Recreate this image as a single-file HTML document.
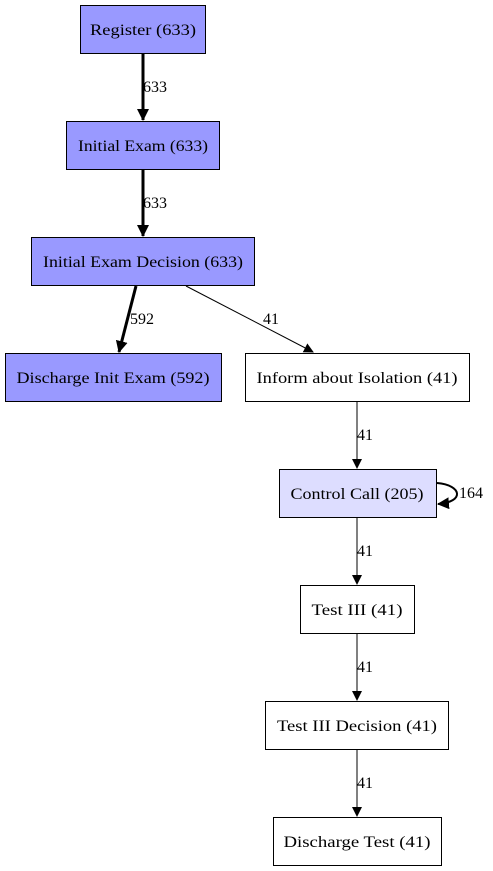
<!DOCTYPE html>
<html><head><meta charset="utf-8"><style>
html,body{margin:0;padding:0;background:#fff;}
svg{display:block;}
text{font-family:"Liberation Serif",serif;font-size:16px;fill:#000;}
</style></head><body>
<svg width="493" height="871" viewBox="0 0 493 871" xmlns="http://www.w3.org/2000/svg">
<defs>
<marker id="a" markerWidth="10" markerHeight="10" refX="9" refY="5" orient="auto" markerUnits="userSpaceOnUse"><path d="M0,0 L10,5 L0,10 z" fill="#000"/></marker>
<marker id="b" markerWidth="12" markerHeight="12" refX="11" refY="6" orient="auto" markerUnits="userSpaceOnUse"><path d="M0,0 L12,6 L0,12 z" fill="#000"/></marker>
</defs>
<g stroke="#000" stroke-width="1">
<rect x="80.5" y="5.5" width="125" height="48" fill="#9999ff"/>
<rect x="66.5" y="121.5" width="153" height="48" fill="#9999ff"/>
<rect x="31.5" y="237.5" width="223" height="48" fill="#9999ff"/>
<rect x="5.5" y="353.5" width="216" height="48" fill="#9999ff"/>
<rect x="245.5" y="353.5" width="224" height="48" fill="#fff"/>
<rect x="279.5" y="469.5" width="157" height="48" fill="#ddddff"/>
<rect x="300.5" y="585.5" width="114" height="48" fill="#fff"/>
<rect x="265.5" y="701.5" width="183" height="48" fill="#fff"/>
<rect x="273.5" y="817.5" width="168" height="48" fill="#fff"/>
</g>
<g stroke="#000" fill="none">
<line x1="143" y1="54" x2="143" y2="120" stroke-width="3" marker-end="url(#b)"/>
<line x1="143" y1="170" x2="143" y2="236" stroke-width="3" marker-end="url(#b)"/>
<line x1="136" y1="286" x2="119" y2="352" stroke-width="3" marker-end="url(#b)"/>
<line x1="186" y1="286" x2="313" y2="352" marker-end="url(#a)"/>
<line x1="357" y1="402" x2="357" y2="468" marker-end="url(#a)"/>
<line x1="357" y1="518" x2="357" y2="584" marker-end="url(#a)"/>
<line x1="357" y1="634" x2="357" y2="700" marker-end="url(#a)"/>
<line x1="357" y1="750" x2="357" y2="816" marker-end="url(#a)"/>
<path d="M437,483 C462,485 465,502 438,504" stroke-width="2" marker-end="url(#b)"/>
</g>
<g text-anchor="middle" lengthAdjust="spacingAndGlyphs">
<text x="143" y="35" textLength="106" lengthAdjust="spacingAndGlyphs">Register (633)</text>
<text x="143" y="151" textLength="130" lengthAdjust="spacingAndGlyphs">Initial Exam (633)</text>
<text x="143" y="267" textLength="200" lengthAdjust="spacingAndGlyphs">Initial Exam Decision (633)</text>
<text x="113" y="383" textLength="193" lengthAdjust="spacingAndGlyphs">Discharge Init Exam (592)</text>
<text x="357" y="383" textLength="201" lengthAdjust="spacingAndGlyphs">Inform about Isolation (41)</text>
<text x="357" y="499" textLength="133" lengthAdjust="spacingAndGlyphs">Control Call (205)</text>
<text x="357" y="615" textLength="91" lengthAdjust="spacingAndGlyphs">Test III (41)</text>
<text x="357" y="731" textLength="160" lengthAdjust="spacingAndGlyphs">Test III Decision (41)</text>
<text x="357" y="847" textLength="147" lengthAdjust="spacingAndGlyphs">Discharge Test (41)</text>
</g>
<text x="143" y="92">633</text>
<text x="143" y="208">633</text>
<text x="130" y="324">592</text>
<text x="263" y="324">41</text>
<text x="357" y="440">41</text>
<text x="459" y="498">164</text>
<text x="357" y="556">41</text>
<text x="357" y="672">41</text>
<text x="357" y="788">41</text>
</svg>
</body></html>
